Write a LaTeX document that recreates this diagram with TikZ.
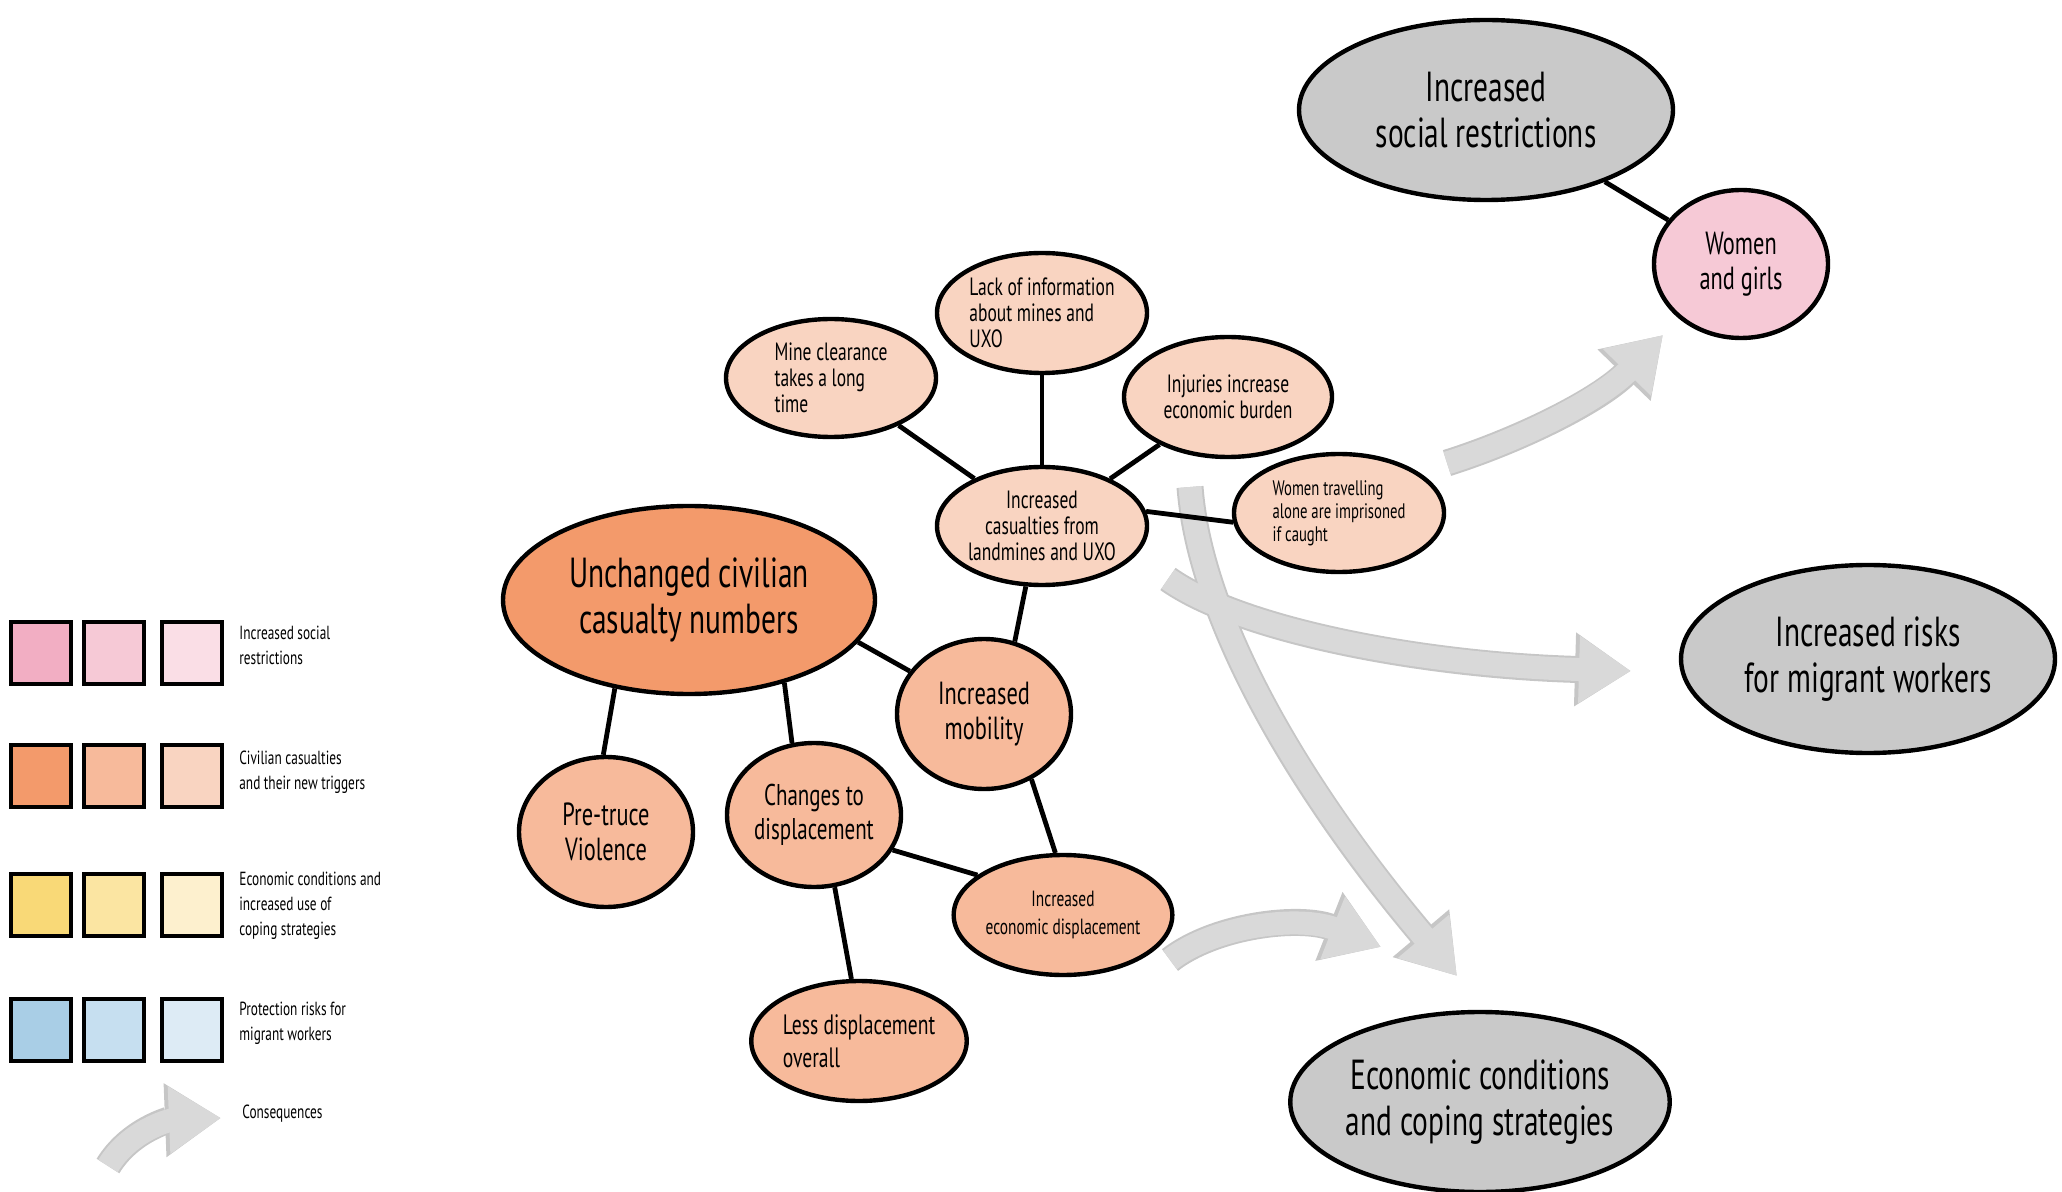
\documentclass[tikz,border=0pt]{standalone}
\usepackage{fontspec}
\setmainfont[FakeStretch=0.7]{PT Sans}
\usetikzlibrary{shapes.geometric,arrows.meta}
\definecolor{orD}{HTML}{F39A6B}
\definecolor{orM}{HTML}{F7BA9B}
\definecolor{orL}{HTML}{F9D4C1}
\definecolor{pkD}{HTML}{F2AEC3}
\definecolor{pkM}{HTML}{F6C9D6}
\definecolor{pkL}{HTML}{FADEE6}
\definecolor{ylD}{HTML}{F9D977}
\definecolor{ylM}{HTML}{FBE5A2}
\definecolor{ylL}{HTML}{FDF0CE}
\definecolor{blD}{HTML}{A9CEE6}
\definecolor{blM}{HTML}{C6DFF0}
\definecolor{blL}{HTML}{DDEBF5}
\definecolor{nodegrey}{HTML}{C9C9C9}
\definecolor{arrowgrey}{HTML}{D9D9D9}
\definecolor{arrowedge}{HTML}{C6C6C6}
\begin{document}
\begin{tikzpicture}[x=0.5pt,y=-0.5pt,
  blob/.style={ellipse, draw=black, line width=2.2pt, inner sep=0pt, align=center},
  bigfont/.style={font=\fontsize{21}{23}\selectfont},
  midfont/.style={font=\fontsize{16}{17.5}\selectfont},
  smallfont/.style={font=\fontsize{12.5}{13}\selectfont},
  tinyfont/.style={font=\fontsize{10.5}{11.5}\selectfont},
  legfont/.style={font=\fontsize{9.5}{12.5}\selectfont},
  link/.style={line width=2.4pt, black},
  sq/.style={rectangle, draw=black, line width=2.2pt, minimum width=30pt, minimum height=31pt, inner sep=0pt},
  conseqedge/.style={draw=arrowedge, line width=13.5pt, -{Triangle[width=35pt,length=28pt]}},
  conseq/.style={draw=arrowgrey, line width=11.5pt, -{Triangle[width=32pt,length=26pt]}}
]
\useasboundingbox (0,0) rectangle (2062,1192);

% consequence arrows (background)
\coordinate (aT) at (1447,463);  \coordinate (aH) at (1663,335);
\coordinate (bT) at (1168,579);  \coordinate (bH) at (1631,671);
\coordinate (cT) at (1190,487);  \coordinate (cH) at (1457,976);
\coordinate (dT) at (1170,960);  \coordinate (dH) at (1381,947);
\coordinate (eT) at (108,1166);  \coordinate (eH) at (221,1118);
\foreach \s in {conseqedge, conseq}{
  \draw[\s] (aT) .. controls (1520,440) and (1600,400) .. (aH);
  \draw[\s] (bT) .. controls (1240,630) and (1420,665) .. (bH);
  \draw[\s] (cT) .. controls (1200,620) and (1300,790) .. (cH);
  \draw[\s] (dT) .. controls (1215,925) and (1300,915) .. (dH);
  \draw[\s] (eT) .. controls (130,1130) and (170,1120) .. (eH);
}

% main nodes
\node[blob, fill=orD, bigfont, minimum width=186pt, minimum height=94pt] (unch) at (689,600) {Unchanged civilian\\casualty numbers};
\node[blob, fill=orM, midfont, minimum width=87pt, minimum height=75pt] (pre) at (606,832) {Pre-truce\\Violence};
\node[blob, fill=orM, font=\fontsize{15}{17}\selectfont, minimum width=87pt, minimum height=72pt] (chg) at (814,815) {Changes to\\displacement};
\node[blob, fill=orM, midfont, minimum width=87pt, minimum height=75pt] (mob) at (984,714) {Increased\\mobility};
\node[blob, fill=orM, font=\fontsize{11}{14}\selectfont, minimum width=104pt, minimum height=60pt] (econd) at (1063,915) {Increased\\economic displacement};
\node[blob, fill=orM, font=\fontsize{14}{16.5}\selectfont, minimum width=105pt, minimum height=60pt, align=left] (less) at (859,1041) {Less displacement\\overall};
\node[blob, fill=orL, smallfont, minimum width=105pt, minimum height=59pt] (cas) at (1042,526) {Increased\\casualties from\\landmines and UXO};
\node[blob, fill=orL, smallfont, minimum width=105pt, minimum height=59pt, align=left] (mine) at (831,378) {Mine clearance\\takes a long\\time};
\node[blob, fill=orL, smallfont, minimum width=105pt, minimum height=60pt, align=left] (lack) at (1042,313) {Lack of information\\about mines and\\UXO};
\node[blob, fill=orL, smallfont, minimum width=104pt, minimum height=60pt] (inj) at (1228,397) {Injuries increase\\economic burden};
\node[blob, fill=orL, tinyfont, minimum width=105pt, minimum height=59pt, align=left] (wom) at (1339,513) {Women travelling\\alone are imprisoned\\if caught};
\node[blob, fill=nodegrey, bigfont, minimum width=187pt, minimum height=90pt] (soc) at (1486,110) {Increased\\social restrictions};
\node[blob, fill=pkM, midfont, minimum width=87pt, minimum height=74pt] (girls) at (1741,264) {Women\\and girls};
\node[blob, fill=nodegrey, bigfont, minimum width=187pt, minimum height=94pt] (mig) at (1868,659) {Increased risks\\for migrant workers};
\node[blob, fill=nodegrey, bigfont, minimum width=187pt, minimum height=90pt] (eco) at (1480,1102) {Economic conditions\\and coping strategies};

% links
\draw[link] (unch.230) -- (pre.92);
\draw[link] (unch.319) -- (chg.107);
\draw[link] (unch.346) -- (mob.150);
\draw[link] (cas.255) -- (mob.67);
\draw[link] (mob.306) -- (econd.97);
\draw[link] (chg.336) -- (econd.155);
\draw[link] (chg.286) -- (less.97);
\draw[link] (mine) -- (cas);
\draw[link] (lack) -- (cas);
\draw[link] (inj) -- (cas);
\draw[link] (cas.8) -- (wom.185);
\draw[link] (soc) -- (girls);

% legend
\foreach \r/\y/\a/\b/\c in {1/653/pkD/pkM/pkL, 2/776/orD/orM/orL, 3/905/ylD/ylM/ylL, 4/1030/blD/blM/blL}{
  \node[sq, fill=\a] (sq\r a) at (41,\y) {};
  \node[sq, fill=\b] (sq\r b) at (114,\y) {};
  \node[sq, fill=\c] (sq\r c) at (192,\y) {};
}
\node[legfont, anchor=west, align=left, inner sep=0pt] (leg1) at (239,645) {Increased social\\restrictions};
\node[legfont, anchor=west, align=left, inner sep=0pt] (leg2) at (239,772) {Civilian casualties\\and their new triggers};
\node[legfont, anchor=west, align=left, inner sep=0pt] (leg3) at (239,906) {Economic conditions and\\increased use of\\coping strategies};
\node[legfont, anchor=west, align=left, inner sep=0pt] (leg4) at (239,1023) {Protection risks for\\migrant workers};
\node[legfont, anchor=west, align=left, inner sep=0pt] (leg5) at (242,1114) {Consequences};
\end{tikzpicture}
\end{document}
